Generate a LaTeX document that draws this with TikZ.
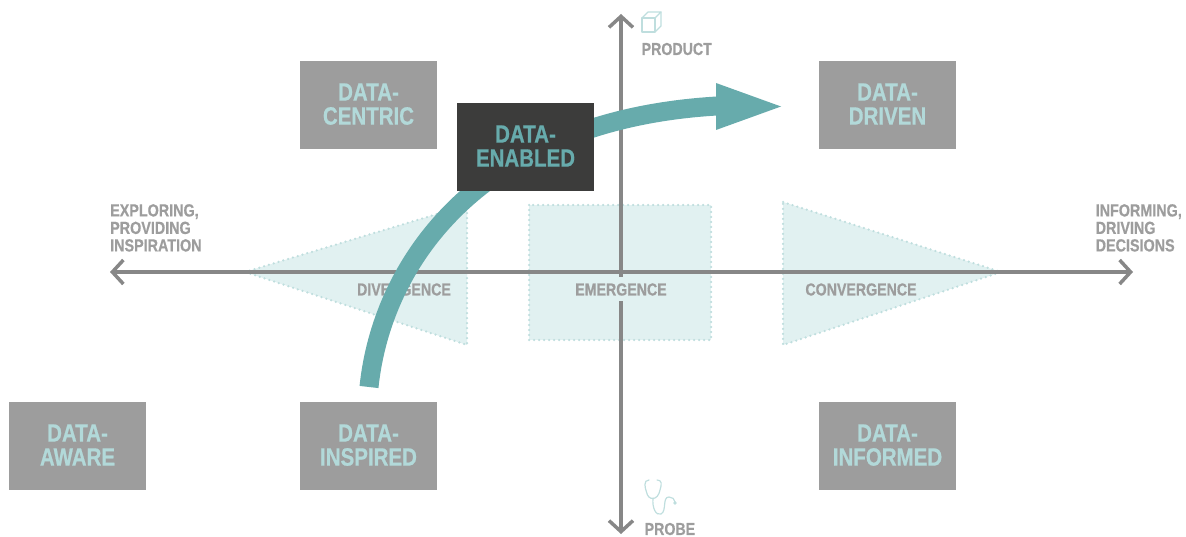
\documentclass[tikz,border=0pt]{standalone}
\usepackage{fontspec}
\setmainfont{Liberation Sans}[FakeStretch=0.82,BoldFont=Liberation Sans Bold,BoldFeatures={FakeBold=0.6}]
\usetikzlibrary{arrows.meta}
\definecolor{tealdark}{HTML}{67ABAC}
\definecolor{tealpale}{HTML}{E1F1F1}
\definecolor{tealdots}{HTML}{BFDEDE}
\definecolor{tealtext}{HTML}{B2D9D9}
\definecolor{greybox}{HTML}{9D9D9D}
\definecolor{greyaxis}{HTML}{878787}
\definecolor{darkbox}{HTML}{3C3C3B}
\tikzset{
  databox/.style={fill=greybox, minimum width=137pt, minimum height=88pt, inner sep=0pt, align=center,
    text depth=2pt, text=tealtext, font=\bfseries\fontsize{25}{24}\selectfont},
  axisline/.style={draw=greyaxis, line width=3.5pt, {Straight Barb[length=11pt,width=24pt,line width=3.5pt]}-{Straight Barb[length=11pt,width=24pt,line width=3.5pt]}},
  zone/.style={fill=tealpale, draw=tealdots, line width=2.5pt, line cap=round, dash pattern=on 0pt off 5pt},
  zonelabel/.style={text=greybox, inner sep=0pt, font=\bfseries\fontsize{17.3}{18}\selectfont},
  sidelabel/.style={text=greybox, inner sep=0pt, align=left, font=\bfseries\fontsize{17.5}{17.5}\selectfont},
  iconline/.style={draw=tealdots, line width=1.2pt, line cap=round, line join=round}
}
\begin{document}
\begin{tikzpicture}[x=1pt, y=-1pt]
    \useasboundingbox (0,0) rectangle (1186,537);

    % zones
    \draw[zone] (245,272) -- (467,205) -- (467,345) -- cycle;
    \draw[zone] (529,205) rectangle (711,340);
    \draw[zone] (783,202) -- (1001,272) -- (783,345) -- cycle;

    % axes
    \coordinate (west) at (110,272);
    \coordinate (east) at (1133,272);
    \coordinate (north) at (621,14);
    \coordinate (south) at (621,534);
    \draw[axisline] (west) -- (east);
    \draw[axisline] (north) -- (south);

    % zone labels
    \node[zonelabel] (divergence) at (404,289.5) {DIVERGENCE};
    \node[zonelabel, fill=tealpale, minimum width=100pt, minimum height=24pt] (emergence) at (621,289.5) {EMERGENCE};
    \node[zonelabel] (convergence) at (861,289.5) {CONVERGENCE};

    % axis labels
    \node[sidelabel, anchor=north west] (exploring) at (110,204) {EXPLORING,\\PROVIDING\\INSPIRATION};
    \node[sidelabel, anchor=north west] (informing) at (1095.5,204) {INFORMING,\\DRIVING\\DECISIONS};
    \node[zonelabel, anchor=west] (product) at (641.5,49) {PRODUCT};
    \node[zonelabel, anchor=west] (probe) at (644.5,529) {PROBE};

    % cube
    \draw[iconline] (642,18) rectangle (655,32);
    \draw[iconline] (642,18) -- (648,12) -- (661,12) -- (655,18);
    \draw[iconline] (661,12) -- (661,26) -- (655,32);

    % stethoscope
    \draw[iconline] (649,480) .. controls (643,480) and (645,488) .. (646.5,492) .. controls (648,501) and (658,501) .. (660,490) .. controls (662,484) and (662,480) .. (657,480);
    \draw[iconline] (653,498) .. controls (652,508) and (656,516) .. (661,514) .. controls (667,511) and (662,497) .. (669,497) .. controls (672,497) and (675,499) .. (675,502);
    \fill[tealdots] (675,503) circle (1.8pt);

    % boxes
    \node[databox] (centric) at (368.5,105) {DATA-\\CENTRIC};
    \node[databox] (driven) at (887.5,105) {DATA-\\DRIVEN};
    \node[databox] (aware) at (77.5,446) {DATA-\\AWARE};
    \node[databox] (inspired) at (368.5,446) {DATA-\\INSPIRED};
    \node[databox] (informed) at (887.5,446) {DATA-\\INFORMED};

    % path
    \coordinate (pathstart) at (369,387);
    \coordinate (pathend) at (717,106);
    \coordinate (pathtip) at (781,106.5);
    \draw[tealdark, line width=19pt] (pathstart) .. controls (382,262) and (480,120) .. (pathend);
    \fill[tealdark] (716,83) -- (pathtip) -- (716,130) -- cycle;

    \node[databox, fill=darkbox, text=tealdark] (enabled) at (525.5,147) {DATA-\\ENABLED};
\end{tikzpicture}
\end{document}
